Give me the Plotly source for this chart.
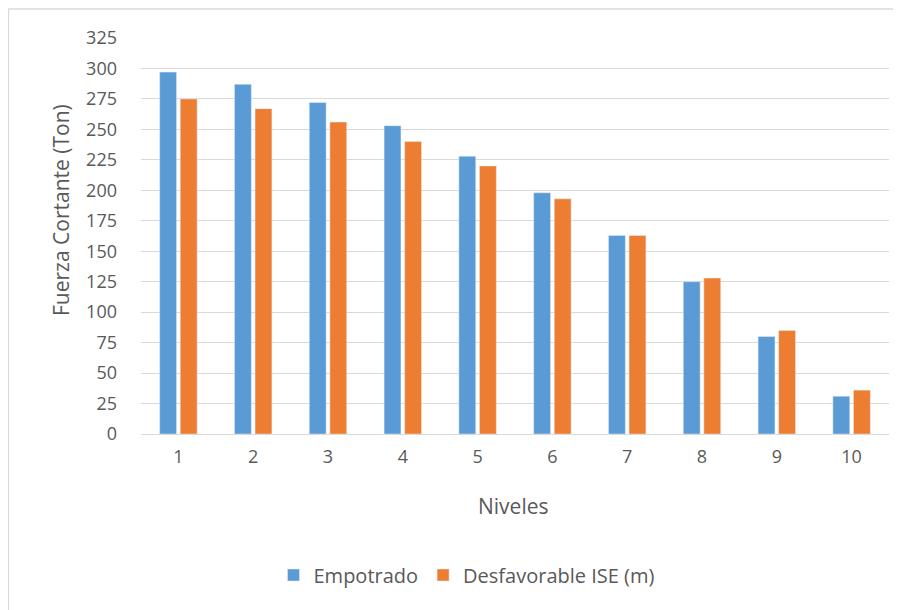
import plotly.graph_objects as go

niveles = ["1", "2", "3", "4", "5", "6", "7", "8", "9", "10"]
empotrado = [297, 287, 272, 253, 228, 198, 163, 125, 80, 31]
desfavorable = [275, 267, 256, 240, 220, 193, 163, 128, 85, 36]
y_ticks = list(range(0, 326, 25))

# page body margin of 8px is accounted for: figure is placed at (8, 8)
OFF = 8
W, H = 901 - OFF, 610 - OFF
L, R, T, B = 141 - OFF, 12, 38 - OFF, 176
pw, ph = W - L - R, H - T - B

def px(x):  # screen x -> paper
    return (x - OFF - L) / pw

def py(y):  # screen y -> paper
    return (H - B - (y - OFF)) / ph

txt = "#595959"
font = "Open Sans"

fig = go.Figure()
fig.add_trace(go.Bar(x=niveles, y=empotrado, name="Empotrado", marker_color="#5B9BD5"))
fig.add_trace(go.Bar(x=niveles, y=desfavorable, name="Desfavorable ISE (m)", marker_color="#ED7D31"))

fig.update_layout(
    width=W, height=H,
    margin=dict(l=L, r=R, t=T, b=B, autoexpand=False),
    paper_bgcolor="white", plot_bgcolor="white",
    barmode="group", bargap=0.45, bargroupgap=0.18,
    font=dict(family=font, color=txt, size=18),
    showlegend=True,
    legend=dict(orientation="h", xref="container", x=(467 - OFF) / W, xanchor="center",
                yref="container", y=(H - (575 - OFF)) / H, yanchor="middle",
                font=dict(size=20, color=txt), itemwidth=30, traceorder="normal"),
    xaxis=dict(type="category", showgrid=False, showline=False, ticks="",
               tickfont=dict(size=18, color=txt), ticklabelstandoff=10),
    yaxis=dict(range=[0, 325], tickvals=y_ticks, showgrid=True, gridcolor="#D9D9D9",
               gridwidth=1.3, zeroline=True, zerolinecolor="#D9D9D9", zerolinewidth=1.3,
               showline=False, ticks="", tickfont=dict(size=18, color=txt),
               ticklabelstandoff=23),
    annotations=[
        dict(text="Fuerza Cortante (Ton)", textangle=-90, xref="paper", yref="paper",
             x=px(61), y=py(210), showarrow=False, xanchor="center", yanchor="middle",
             font=dict(size=21, color=txt)),
        dict(text="Niveles", xref="paper", yref="paper", x=px(513), y=py(506),
             showarrow=False, xanchor="center", yanchor="middle",
             font=dict(size=21, color=txt)),
    ],
    shapes=[
        dict(type="line", xref="paper", yref="paper", x0=px(8), x1=px(901), y0=py(9), y1=py(9),
             line=dict(color="#D9D9D9", width=1.3)),
        dict(type="line", xref="paper", yref="paper", x0=px(8.5), x1=px(8.5), y0=py(9), y1=py(610),
             line=dict(color="#D9D9D9", width=1.3)),
    ],
)

fig.write_html("out.html")
